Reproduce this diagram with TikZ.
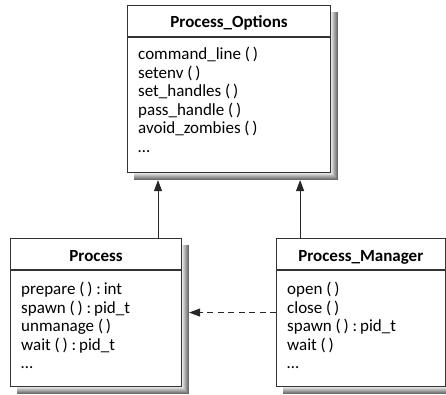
\documentclass[tikz,border=0pt]{standalone}
\usepackage{fontspec}
\setmainfont{Carlito}
\usetikzlibrary{arrows.meta}
\pgfdeclarelayer{shade}
\pgfsetlayers{shade,main}

\begin{document}
\begin{tikzpicture}[
    x=1pt,y=-1pt,
    every node/.style={font=\fontsize{17}{18.5}\selectfont},
    classbox/.style={draw=black!80, line width=1.1pt, fill=white, anchor=north west, inner sep=0pt},
    ctitle/.style={font=\fontsize{17}{18.5}\selectfont\bfseries, anchor=base, inner sep=0pt},
    members/.style={anchor=north west, align=left, inner sep=0pt},
    sepline/.style={draw=black!80, line width=1.1pt},
    inherit/.style={-{Triangle[length=11pt,width=8pt]}, line width=0.9pt, draw=black!85},
    uses/.style={inherit, dash pattern=on 6pt off 4.5pt}
]
    \useasboundingbox (0,0) rectangle (446,395);

    % class boxes
    \node[classbox, minimum width=203pt, minimum height=167pt] (opts) at (127,5) {};
    \node[classbox, minimum width=171pt, minimum height=148pt] (proc) at (10,238) {};
    \node[classbox, minimum width=168.5pt, minimum height=148pt] (mgr) at (276,238) {};

    % shadows, darker towards the outer edge
    \begin{pgfonlayer}{shade}
        \foreach \c in {opts,proc,mgr} {
            \foreach \k/\g in {7/58,6/50,5/42,4/34,3/26,2/18,1/10} {
                \fill[black!\g] ([shift={(7,7)}]\c.north west) rectangle ([shift={(\k,\k)}]\c.south east);
            }
        }
    \end{pgfonlayer}

    % headers
    \foreach \c in {opts,proc,mgr} {
        \draw[sepline] ([yshift=-32pt]\c.north west) -- ([yshift=-32pt]\c.north east);
    }
    \node[ctitle] (optsT) at ([yshift=-23pt]opts.north) {Process\_Options};
    \node[ctitle] (procT) at ([yshift=-23pt]proc.north) {Process};
    \node[ctitle] (mgrT) at ([yshift=-23pt]mgr.north) {Process\_Manager};

    % members
    \node[members] (optsM) at ([xshift=11pt,yshift=-42pt]opts.north west)
        {command\_line (\,)\\ setenv (\,)\\ set\_handles (\,)\\ pass\_handle (\,)\\ avoid\_zombies (\,)\\ \ldots};
    \node[members] (procM) at ([xshift=11pt,yshift=-44pt]proc.north west)
        {prepare (\,) :\,int\\ spawn (\,) :\,pid\_t\\ unmanage (\,)\\ wait (\,) :\,pid\_t\\ \ldots};
    \node[members] (mgrM) at ([xshift=11pt,yshift=-44pt]mgr.north west)
        {open (\,)\\ close (\,)\\ spawn (\,) :\,pid\_t\\ wait (\,)\\ \ldots};

    % relations
    \coordinate (optsL) at ([xshift=31pt,yshift=-7pt]opts.south west);
    \coordinate (optsR) at ([xshift=-31pt,yshift=-7pt]opts.south east);
    \coordinate (procE) at ([xshift=7pt]proc.east);
    \draw[inherit] (proc.north -| optsL) -- (optsL);
    \draw[inherit] (mgr.north -| optsR) -- (optsR);
    \draw[uses] (mgr.west |- procE) -- (procE);
\end{tikzpicture}
\end{document}
